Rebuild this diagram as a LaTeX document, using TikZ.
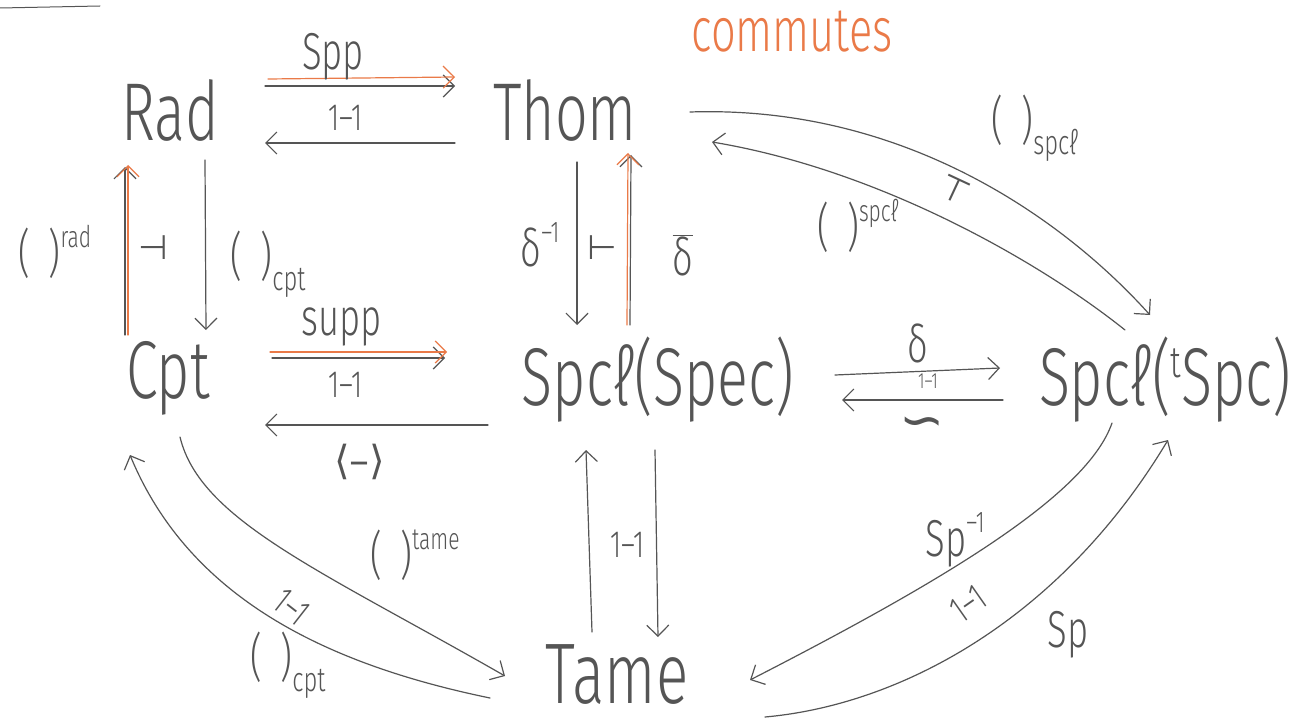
\documentclass[tikz,border=0pt]{standalone}
\usepackage{fontspec}
\usetikzlibrary{arrows.meta,calc}
\newfontfamily\hand[FakeStretch=0.7]{Fira Sans Light}
\newfontfamily\symf{DejaVu Sans}
\definecolor{ink}{RGB}{85,85,85}
\definecolor{orng}{RGB}{234,122,72}
\newcommand{\sups}[1]{\raisebox{0.45em}{\fontsize{30}{30}\selectfont #1}}
\newcommand{\subs}[1]{\raisebox{-0.3em}{\fontsize{34}{34}\selectfont #1}}
\newcommand{\pp}{(\hspace{0.35em})}
\tikzset{
  obj/.style={font=\hand\fontsize{82}{86}\selectfont, text=ink, inner sep=0pt},
  lab/.style={font=\hand\fontsize{52}{54}\selectfont, text=ink, inner sep=0pt},
  slab/.style={font=\hand\fontsize{38}{40}\selectfont, text=ink, inner sep=0pt},
  symb/.style={font=\symf\fontsize{34}{36}\selectfont, text=ink, inner sep=0pt},
  ln/.style={draw=ink, line width=1.2pt, line cap=round},
  arr/.style={ln, -{Straight Barb[length=11pt,width=22pt,line width=1.2pt]}},
  oarr/.style={arr, draw=orng},
}
\begin{document}
\begin{tikzpicture}[x=1pt,y=-1pt]
\useasboundingbox (0,0) rectangle (1315,722);
\fill[white] (0,0) rectangle (1315,722);

% objects
\node[obj] (rad)  at (170,110) {Rad};
\node[obj] (thom) at (565,110) {Thom};
\node[obj] (cpt)  at (168,378) {Cpt};
\node[obj] (spec) at (658,380) {Spcℓ(Spec)};
\node[obj] (tspc) at (1165,380) {Spcℓ(\raisebox{0.35em}{\fontsize{44}{44}\selectfont t}Spc)};
\node[obj, font=\hand\fontsize{86}{90}\selectfont] (tame) at (617,675) {Tame};
\node[lab, text=orng, font=\hand\fontsize{62}{64}\selectfont] (comm) at (792,32) {commutes};

% corner underline
\coordinate (ul1) at (0,8);
\coordinate (ul2) at (100,6);
\draw[ln, line width=1pt] (ul1) -- (ul2);

% Rad <-> Thom
\draw[arr] ($(rad)+(95,-24)$) -- ($(thom)+(-110,-24)$);
\draw[oarr] ($(rad)+(98,-31)$) -- ($(thom)+(-110,-33)$);
\draw[arr] ($(thom)+(-110,33)$) -- ($(rad)+(95,33)$);
\node[lab] (lspp) at (333,57) {Spp};
\node[slab] (l11a) at (345,118) {1–1};

% Rad <-> Cpt
\draw[arr] ($(cpt)+(-43,-43)$) -- ($(rad)+(-45,57)$);
\draw[oarr] ($(cpt)+(-40,-43)$) -- ($(rad)+(-42,55)$);
\draw[arr] ($(rad)+(35,50)$) -- ($(cpt)+(38,-48)$);
\node[lab] (lrad) at (55,252) {\pp\sups{rad}};
\node[symb] (adj1) at (153,248) {⊣};
\node[lab] (lcpt1) at (268,264) {\pp\subs{cpt}};

% Cpt <-> Spcl(Spec)
\draw[arr] ($(cpt)+(104,-20)$) -- ($(spec)+(-213,-22)$);
\draw[oarr] ($(cpt)+(102,-26)$) -- ($(spec)+(-211,-28)$);
\draw[arr] ($(spec)+(-170,45)$) -- ($(cpt)+(97,47)$);
\node[lab] (lsupp) at (342,327) {supp};
\node[slab] (l11b) at (345,385) {1–1};
\node[symb, font=\symf\fontsize{40}{42}\selectfont] (lang) at (360,462) {⟨–⟩};

% Thom <-> Spcl(Spec)
\draw[arr] ($(thom)+(12,52)$) -- ($(spec)+(-81,-55)$);
\draw[arr] ($(spec)+(-28,-55)$) -- ($(thom)+(66,45)$);
\draw[oarr] ($(spec)+(-31,-55)$) -- ($(thom)+(63,43)$);
\node[lab] (ldinv) at (540,245) {δ\sups{–1}};
\node[symb] (adj2) at (602,248) {⊢};
\node[lab] (ldbar) at (683,255) {$\overline{\mbox{δ}}$};

% Thom <-> Spcl(tSpc)
\draw[arr] ($(thom)+(125,2)$) .. controls (900,105) and (1060,215) .. ($(tspc)+(-15,-65)$);
\draw[arr] ($(tspc)+(-40,-50)$) .. controls (1040,262) and (880,170) .. ($(thom)+(147,32)$);
\node[lab] (lspcl1) at (1035,128) {\pp\subs{spcℓ}};
\node[lab] (lspcl2) at (858,226) {\pp\sups{spcℓ}};
\node[symb, rotate=-25] (adj3) at (955,190) {⊤};

% Spcl(Spec) <-> Spcl(tSpc)
\draw[arr] ($(spec)+(177,-5)$) -- ($(tspc)+(-165,-12)$);
\draw[arr] ($(tspc)+(-162,20)$) -- ($(spec)+(184,20)$);
\node[lab] (ldelta) at (918,343) {δ};
\node[slab, font=\hand\fontsize{22}{24}\selectfont] (l11c) at (928,381) {1–1};
\node[symb, font=\symf\fontsize{54}{56}\selectfont] (liso) at (922,428) {∽};

% Cpt <-> Tame
\draw[arr] ($(tame)+(-127,23)$) .. controls (330,665) and (190,600) .. ($(cpt)+(-38,77)$);
\draw[arr] ($(cpt)+(12,59)$) .. controls (200,520) and (320,570) .. ($(tame)+(-112,1)$);
\node[lab] (ltame) at (415,555) {\pp\sups{tame}};
\node[lab] (lcpt2) at (288,665) {\pp\subs{cpt}};
\node[slab, rotate=-38] (l11d) at (292,607) {1–1};

% Spcl(Spec) <-> Tame
\draw[arr] ($(tame)+(-25,-43)$) -- ($(spec)+(-72,70)$);
\draw[arr] ($(spec)+(-3,70)$) -- ($(tame)+(41,-38)$);
\node[slab] (l11e) at (627,545) {1–1};

% Spcl(tSpc) <-> Tame
\draw[arr] ($(tspc)+(-53,43)$) .. controls (1087,495) and (945,580) .. ($(tame)+(133,5)$);
\draw[arr] ($(tame)+(148,42)$) .. controls (900,705) and (1060,620) .. ($(tspc)+(3,60)$);
\node[lab] (lspinv) at (955,540) {Sp\sups{–1}};
\node[lab] (lsp) at (1068,635) {Sp};
\node[slab, rotate=35] (l11f) at (968,604) {1–1};
\end{tikzpicture}
\end{document}
